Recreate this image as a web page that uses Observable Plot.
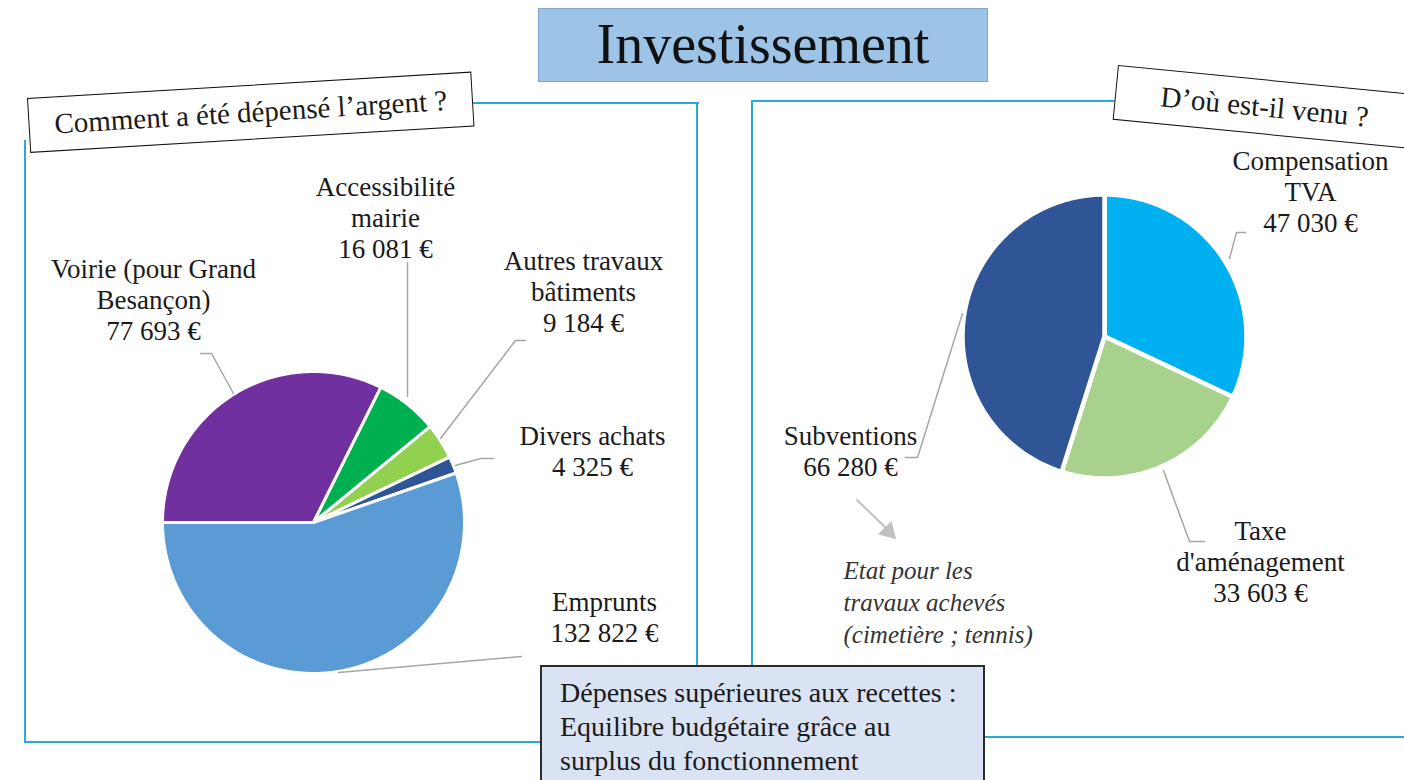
<!DOCTYPE html>
<html>
<head>
<meta charset="utf-8">
<script src="https://cdn.jsdelivr.net/npm/d3@7"></script>
<script src="https://cdn.jsdelivr.net/npm/@observablehq/plot@0.6"></script>
<style>
  html, body { margin: 0; padding: 0; background: #fff; }
  #page { position: relative; width: 1404px; height: 780px; overflow: hidden; background: #fff;
          font-family: "Liberation Serif", "Times New Roman", serif; color: #1a1a1a; }
  .line { position: absolute; background: #2aa8dc; }
  .box { position: absolute; box-sizing: border-box; }
  #chart { position: absolute; left: 0; top: 0; }
</style>
</head>
<body>
<div id="page">
  <!-- panel frames -->
  <div class="line" style="left:471px;top:102px;width:228px;height:2px"></div>
  <div class="line" style="left:696px;top:102px;width:2px;height:580px"></div>
  <div class="line" style="left:24px;top:140px;width:2px;height:603px"></div>
  <div class="line" style="left:24px;top:741px;width:530px;height:2px"></div>
  <div class="line" style="left:751px;top:100px;width:380px;height:2px"></div>
  <div class="line" style="left:751px;top:100px;width:2px;height:580px"></div>
  <div class="line" style="left:970px;top:736px;width:440px;height:2px"></div>
  <div id="chart"></div>
  <div class="box" style="left:538px;top:8px;width:450px;height:74px;background:#9dc3e6;border:1px solid #7fa6cf;font-size:56px;line-height:70px;text-align:center;color:#111">Investissement</div>
  <div class="box" style="left:27px;top:98px;width:445px;height:55px;background:#fff;border:1.5px solid #111;transform-origin:0 0;transform:rotate(-3.4deg);font-size:29px;line-height:52px;text-align:center;white-space:nowrap">Comment a été dépensé l’argent ?</div>
  <div class="box" style="left:1118px;top:65px;width:300px;height:55px;background:#fff;border:1.5px solid #111;transform-origin:0 0;transform:rotate(5.6deg);font-size:29px;line-height:52px;text-align:center;white-space:nowrap">D’où est-il venu ?</div>
  <div class="box" style="left:540px;top:665px;width:445px;height:140px;background:#dae3f3;border:2px solid #2b2b2b;font-size:28px;line-height:34px;padding:9px 0 0 18px;white-space:nowrap">Dépenses supérieures aux recettes :<br>Equilibre budgétaire grâce au<br>surplus du fonctionnement</div>
</div>
<script>
// ---- data ----
const spendCategories = ["Voirie (pour Grand\nBesançon)", "Accessibilité\nmairie", "Autres travaux\nbâtiments", "Divers achats", "Emprunts"];
const spendValues = [77693, 16081, 9184, 4325, 132822];
const spendColors = ["#7030a0", "#00b050", "#92d050", "#2f5597", "#5b9bd5"];

const incomeCategories = ["Compensation\nTVA", "Taxe\nd'aménagement", "Subventions"];
const incomeValues = [47030, 33603, 66280];
const incomeColors = ["#00b0f0", "#a9d18e", "#2f5597"];

const noteLines = ["Etat pour les", "travaux achevés", "(cimetière ; tennis)"];

// ---- layout (positions in page pixels) ----
const pies = {
  spend: {cx: 313, cy: 522, r: 151, start: 270, gap: 3},
  income: {cx: 1104, cy: 336, r: 142, start: 0, gap: 4.5}
};
const spendLabelPos = [[153, 299], [385, 217], [583, 291], [592, 450], [604, 616]];
const incomeLabelPos = [[1310, 191], [1260, 561], [850, 450]];
const spendLeaders = [
  [[200, 353], [211, 353], [233, 393]],
  [[407, 262], [407, 396]],
  [[525, 340], [515, 340], [440, 438]],
  [[493, 458], [480, 458], [455, 465]],
  [[521, 656], [338, 672]]
];
const incomeLeaders = [
  [[1245, 232], [1236, 232], [1229, 258]],
  [[1204, 541], [1189, 541], [1163, 470]],
  [[905, 457], [917, 457], [962, 313]]
];
const notePos = [843, 600];
const arrowShaft = [[856, 499], [887, 529]];
const arrowTip = [888, 531];

// ---- helpers ----
const fr = d3.formatLocale({decimal: ",", thousands: " ", grouping: [3], currency: ["", " €"]});
const fmt = v => fr.format(",")(v) + " €";

function slicePoints(cats, vals, pie) {
  const total = d3.sum(vals);
  const pts = [];
  let a = pie.start;
  cats.forEach((c, i) => {
    const span = vals[i] / total * 360;
    const a0 = a, a1 = a + span;
    pts.push({name: c, x: pie.cx, y: pie.cy});
    const n = Math.max(2, Math.ceil(span));
    for (let k = 0; k <= n; k++) {
      const t = (a0 + (a1 - a0) * k / n) * Math.PI / 180;
      pts.push({name: c, x: pie.cx + pie.r * Math.sin(t), y: pie.cy - pie.r * Math.cos(t)});
    }
    a = a1;
  });
  return pts;
}

const spendSlices = slicePoints(spendCategories, spendValues, pies.spend);
const incomeSlices = slicePoints(incomeCategories, incomeValues, pies.income);

const labels = [
  ...spendCategories.map((c, i) => ({text: c + "\n" + fmt(spendValues[i]), x: spendLabelPos[i][0], y: spendLabelPos[i][1]})),
  ...incomeCategories.map((c, i) => ({text: c + "\n" + fmt(incomeValues[i]), x: incomeLabelPos[i][0], y: incomeLabelPos[i][1]}))
];
const leaders = [...spendLeaders, ...incomeLeaders].flatMap((l, i) => l.map(p => ({id: i, x: p[0], y: p[1]})));

const serif = "Liberation Serif, Times New Roman, serif";

const chart = Plot.plot({
  width: 1404, height: 780, margin: 0,
  style: {background: "transparent", fontFamily: serif},
  x: {domain: [0, 1404], range: [0, 1404], axis: null},
  y: {domain: [0, 780], range: [0, 780], axis: null},
  color: {domain: [...spendCategories, ...incomeCategories], range: [...spendColors, ...incomeColors]},
  marks: [
    Plot.line(spendSlices, {x: "x", y: "y", z: "name", fill: "name", stroke: "white", strokeWidth: pies.spend.gap, curve: "linear-closed", strokeLinejoin: "round"}),
    Plot.line(incomeSlices, {x: "x", y: "y", z: "name", fill: "name", stroke: "white", strokeWidth: pies.income.gap, curve: "linear-closed", strokeLinejoin: "round"}),
    Plot.line(leaders, {x: "x", y: "y", z: "id", stroke: "#a6a6a6", strokeWidth: 1.5}),
    Plot.text(labels, {x: "x", y: "y", text: "text", fontSize: 27, lineHeight: 1.15, fill: "#1a1a1a", fontFamily: serif, textAnchor: "middle"}),
    Plot.text([noteLines.join("\n")], {x: notePos[0], y: notePos[1], text: d => d, fontSize: 25, lineHeight: 1.28, fontStyle: "italic", fill: "#333", fontFamily: serif, textAnchor: "start"}),
    Plot.link([arrowShaft], {x1: d => d[0][0], y1: d => d[0][1], x2: d => d[1][0], y2: d => d[1][1], stroke: "#c0c0c0", strokeWidth: 2}),
    Plot.dot([arrowTip], {x: d => d[0], y: d => d[1], symbol: "triangle", r: 7, fill: "#c0c0c0", stroke: "none", rotate: 136})
  ]
});
document.getElementById("chart").appendChild(chart);
</script>
</body>
</html>
